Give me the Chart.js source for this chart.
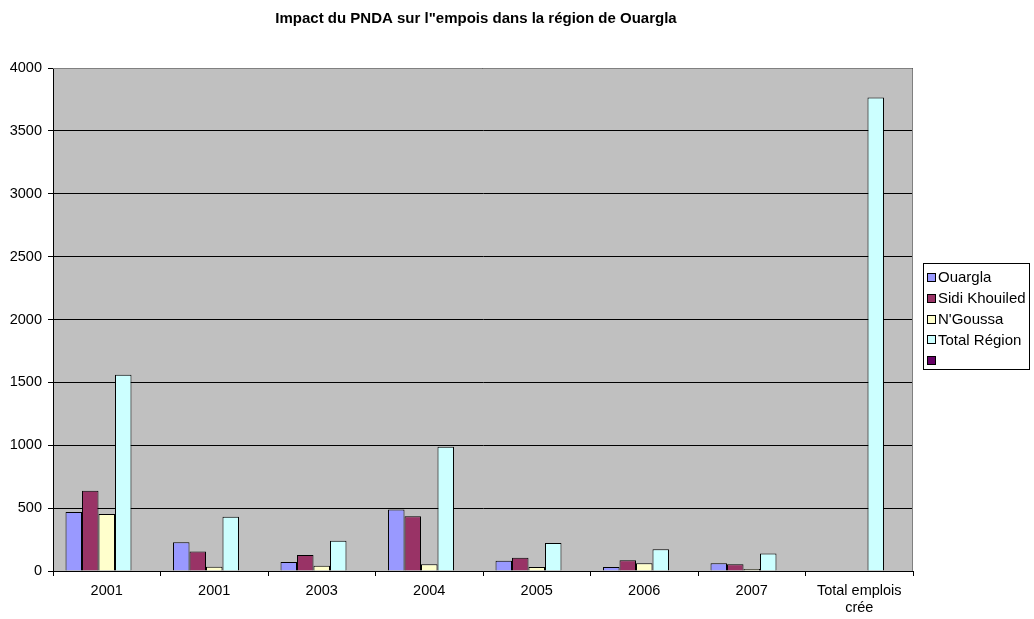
<!DOCTYPE html>
<html>
<head>
<meta charset="utf-8">
<script src="https://cdn.jsdelivr.net/npm/chart.js@4.4.0/dist/chart.umd.min.js"></script>
<style>
  body { margin: 0; background: #fff; }
</style>
</head>
<body>
<canvas id="myChart" width="1034" height="619"></canvas>
<script>
// data
const categories = ['2001', '2001', '2003', '2004', '2005', '2006', '2007', ['Total emplois', 'crée']];
const ouargla = [469, 228, 72, 490, 82, 32, 61, null];
const sidiKhouiled = [639, 156, 127, 435, 106, 85, 53, null];
const nGoussa = [453, 34, 42, 53, 32, 61, 16, null];
const totalRegion = [1561, 432, 241, 989, 223, 172, 140, 3765];
const emptySeries = [null, null, null, null, null, null, null, null];
const yTicks = [0, 500, 1000, 1500, 2000, 2500, 3000, 3500, 4000];

const FONT = "'Liberation Sans', Arial, sans-serif";

const data = {
  labels: categories,
  datasets: [
    { label: 'Ouargla', data: ouargla, backgroundColor: '#9999FF' },
    { label: 'Sidi Khouiled', data: sidiKhouiled, backgroundColor: '#993366' },
    { label: "N'Goussa", data: nGoussa, backgroundColor: '#FFFFCC' },
    { label: 'Total Région', data: totalRegion, backgroundColor: '#CCFFFF' },
    { label: '', data: emptySeries, backgroundColor: '#660066' }
  ]
};
data.datasets.forEach(ds => {
  ds.borderColor = '#000';
  ds.borderWidth = 1;
  ds.borderSkipped = 'bottom';
});

// grey plot area + thin border
const plotArea = {
  id: 'plotArea',
  beforeDraw(chart) {
    const { ctx, chartArea: { left, top, width, height } } = chart;
    ctx.save();
    ctx.fillStyle = '#C0C0C0';
    ctx.fillRect(left, top, width, height);
    ctx.restore();
  },
  beforeDatasetsDraw(chart) {
    const { ctx, chartArea: { left, top, right, bottom } } = chart;
    ctx.save();
    ctx.strokeStyle = '#808080';
    ctx.lineWidth = 1;
    ctx.beginPath();
    ctx.moveTo(left, top + 0.5);
    ctx.lineTo(right - 0.5, top + 0.5);
    ctx.lineTo(right - 0.5, bottom);
    ctx.stroke();
    ctx.restore();
  }
};

// title and boxed legend, drawn like the spreadsheet one
const titleAndLegend = {
  id: 'titleAndLegend',
  afterDraw(chart) {
    const { ctx } = chart;
    ctx.save();
    ctx.fillStyle = '#000';
    ctx.font = `bold 15px ${FONT}`;
    ctx.textAlign = 'center';
    ctx.textBaseline = 'middle';
    ctx.fillText("Impact du PNDA sur l\"empois dans la région de Ouargla", 476, 19);

    // legend box
    const bx = 923.5, by = 263.5, bw = 106, bh = 106;
    ctx.fillStyle = '#fff';
    ctx.fillRect(bx, by, bw, bh);
    ctx.strokeStyle = '#000';
    ctx.lineWidth = 1;
    ctx.strokeRect(bx, by, bw, bh);

    ctx.font = `15px ${FONT}`;
    ctx.textAlign = 'left';
    chart.data.datasets.forEach((ds, i) => {
      const cy = 278 + i * 20.8;
      ctx.fillStyle = ds.backgroundColor;
      ctx.fillRect(927.5, Math.round(cy) - 4.5, 8, 8);
      ctx.strokeStyle = '#000';
      ctx.strokeRect(927.5, Math.round(cy) - 4.5, 8, 8);
      ctx.fillStyle = '#000';
      ctx.fillText(ds.label, 938, cy);
    });
    ctx.restore();
  }
};

const config = {
  type: 'bar',
  data: data,
  options: {
    responsive: false,
    animation: false,
    layout: { padding: { top: 68, right: 121, bottom: 0, left: 0 } },
    datasets: {
      bar: { barPercentage: 1, categoryPercentage: 0.767 }
    },
    scales: {
      x: {
        grid: { display: true, offset: true, drawOnChartArea: false, color: '#000', tickLength: 5 },
        border: { display: true, color: '#000' },
        ticks: { color: '#000', font: { family: FONT, size: 14.5 }, padding: 6, maxRotation: 0, autoSkip: false },
        afterFit(scale) { scale.height = 48; }
      },
      y: {
        min: 0,
        max: 4000,
        afterBuildTicks(scale) { scale.ticks = yTicks.map(v => ({ value: v })); },
        grid: { color: '#000', tickLength: 5 },
        border: { display: true, color: '#000' },
        ticks: {
          color: '#000',
          font: { family: FONT, size: 14.5 },
          padding: 6,
          callback: v => String(v)
        },
        afterFit(scale) { scale.width = 53; }
      }
    },
    plugins: {
      legend: { display: false },
      tooltip: { enabled: false },
      title: { display: false }
    }
  },
  plugins: [plotArea, titleAndLegend]
};

const myChart = new Chart(document.getElementById('myChart'), config);
</script>
</body>
</html>
